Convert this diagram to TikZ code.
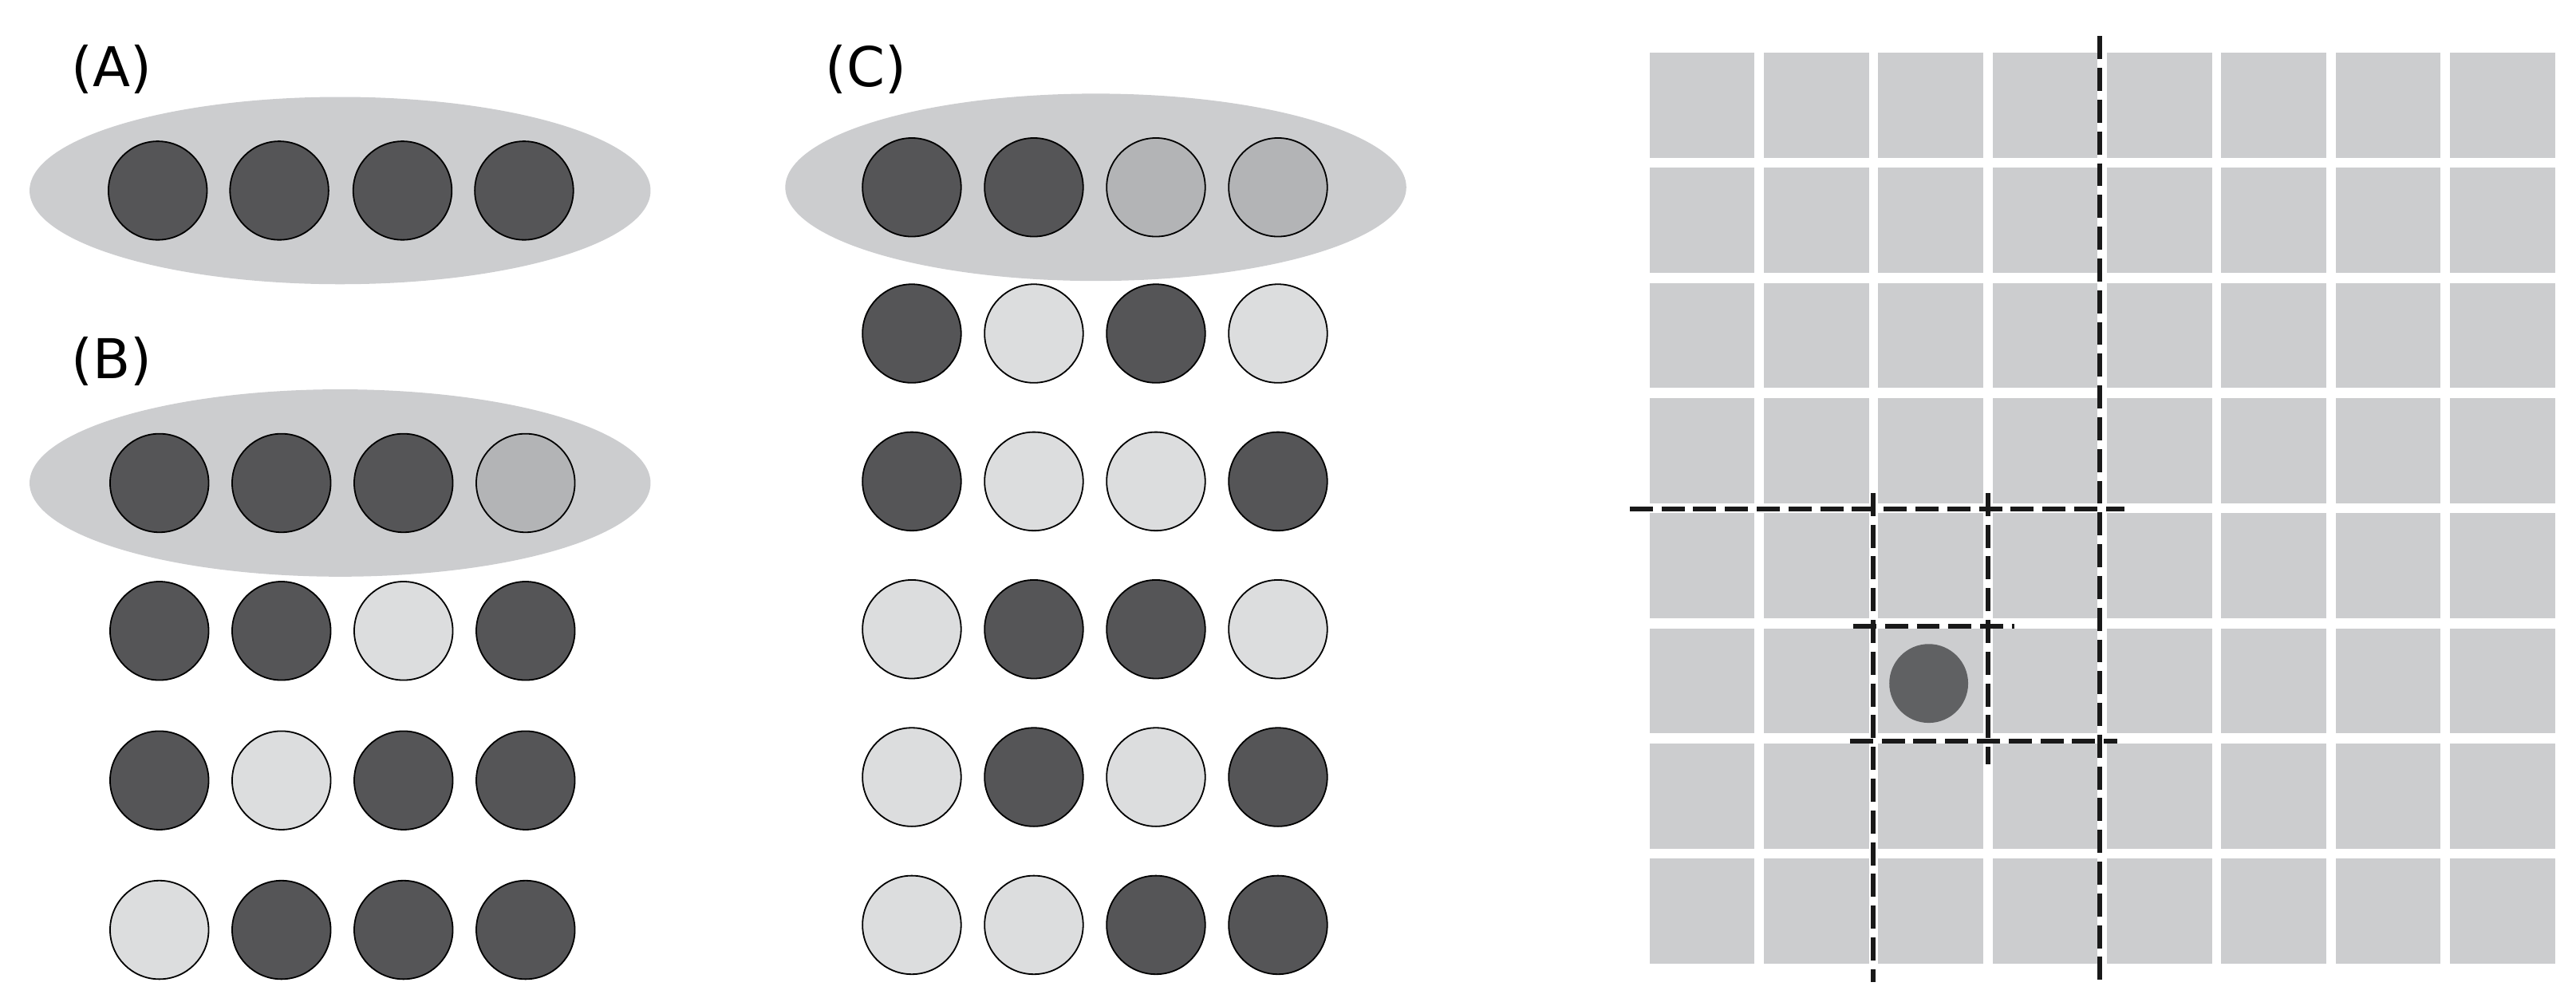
\documentclass[tikz,border=0pt]{standalone}
\usepackage{fontspec}
\setmainfont{DejaVu Sans}
\definecolor{dk}{HTML}{555557}
\definecolor{lt}{HTML}{DCDDDE}
\definecolor{md}{HTML}{B3B4B6}
\definecolor{bg}{HTML}{CCCDCF}
\definecolor{dot}{HTML}{606163}
\begin{document}
\begin{tikzpicture}[x=0.02cm,y=-0.02cm,
  ball/.style={circle,draw=black,line width=0.5pt,minimum size=60*0.02cm,inner sep=0},
  D/.style={ball,fill=dk}, L/.style={ball,fill=lt}, M/.style={ball,fill=md},
  lab/.style={font=\fontsize{19}{22}\selectfont,inner sep=0},
  sq/.style={fill=bg},
  cut/.style={line width=1.7pt,black!90,dash pattern=on 8pt off 3pt}]
\useasboundingbox (0,0) rectangle (1568,612);
% A
\node[lab] (la) at (68,42) {(A)};
\fill[bg] (207,116) ellipse [x radius=189, y radius=57];
\foreach \x/\s [count=\i] in {96/D,170/D,245/D,319/D}
  \node[\s] (a\i) at (\x,116) {};
% B
\node[lab] (lb) at (68,220) {(B)};
\fill[bg] (207,294) ellipse [x radius=189, y radius=57];
\foreach \r/\y in {0/294,1/384,2/475,3/566}{
  \ifcase\r \def\pat{D,D,D,M}\or\def\pat{D,D,L,D}\or\def\pat{D,L,D,D}\or\def\pat{L,D,D,D}\fi
  \foreach \s [count=\i] in \pat {
    \pgfmathsetmacro\xx{97+74.3*(\i-1)}
    \node[\s] (b\r\i) at (\xx,\y) {};}}
% C
\node[lab] (lc) at (527,42) {(C)};
\fill[bg] (667,114) ellipse [x radius=189, y radius=57];
\foreach \r/\y in {0/114,1/203,2/293,3/383,4/473,5/563}{
  \ifcase\r \def\pat{D,D,M,M}\or\def\pat{D,L,D,L}\or\def\pat{D,L,L,D}\or\def\pat{L,D,D,L}\or\def\pat{L,D,L,D}\or\def\pat{L,L,D,D}\fi
  \foreach \s [count=\i] in \pat {
    \pgfmathsetmacro\xx{555+74.3*(\i-1)}
    \node[\s] (c\r\i) at (\xx,\y) {};}}
% grid
\foreach \i in {0,...,7}
  \foreach \j in {0,...,7}
    \fill[sq] ({1004+69.6*\i},{32+70.1*\j}) rectangle +(64,64);
\fill[dot] (1174,416) circle (24);
\coordinate (h1a) at (992,310); \coordinate (h1b) at (1293,310);
\coordinate (v1a) at (1278,22); \coordinate (v1b) at (1278,598);
\coordinate (v2a) at (1140,300); \coordinate (v2b) at (1140,598);
\coordinate (v3a) at (1210,300); \coordinate (v3b) at (1210,465);
\coordinate (h2a) at (1128,381); \coordinate (h2b) at (1226,381);
\coordinate (h3a) at (1126,451); \coordinate (h3b) at (1289,451);
\draw[cut] (h1a) -- (h1b);
\draw[cut] (v1a) -- (v1b);
\draw[cut] (v2a) -- (v2b);
\draw[cut] (v3a) -- (v3b);
\draw[cut] (h2a) -- (h2b);
\draw[cut] (h3a) -- (h3b);
\end{tikzpicture}
\end{document}
